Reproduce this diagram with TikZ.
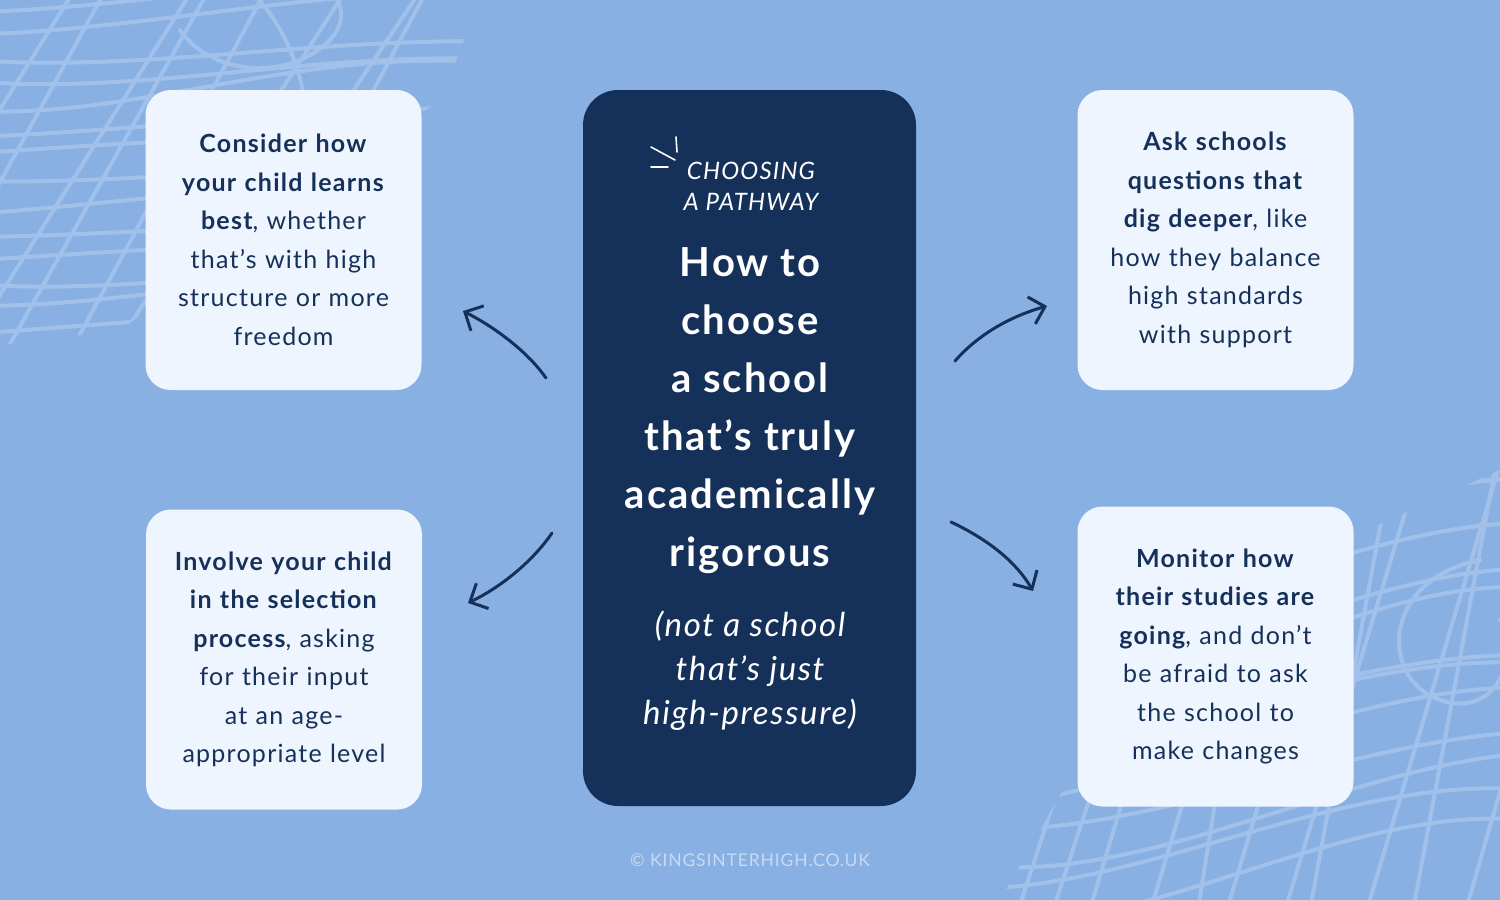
\documentclass[tikz,border=0pt]{standalone}
\usepackage{fontspec}
\setmainfont{Lato}[LetterSpace=5]
\usetikzlibrary{arrows.meta}
\definecolor{bg}{HTML}{89B0E3}
\definecolor{card}{HTML}{EEF5FE}
\definecolor{navy}{HTML}{15315A}
\definecolor{scrib}{HTML}{A2C1EA}
\definecolor{foot}{HTML}{C8DAF3}

\begin{document}
\begin{tikzpicture}[x=1pt, y=-1pt,
    scribble/.style={draw=scrib, line width=4pt, line cap=round},
    card/.style={fill=card, rounded corners=25pt, inner sep=0pt, text width=275pt,
      minimum width=276pt, minimum height=300pt, text=navy, align=center,
      font=\fontsize{25}{38.5}\selectfont},
    hand/.style={draw=navy, line width=3pt, line cap=round, line join=round,
      -{Straight Barb[length=14pt, width=28pt, line width=3pt]}},
    spark/.style={draw=white, line width=1.6pt, line cap=round}]
  \useasboundingbox (0,0) rectangle (1500,900);
  \fill[bg] (0,0) rectangle (1500,900);
  \pgfmathsetseed{11}
  % scribbles, top left
  \begin{scope}
    \clip (0,0) -- (480,0) -- (440,100) -- (300,200) -- (120,330) -- (0,345) -- cycle;
    \foreach \i in {0,...,13} {
      \pgfmathsetmacro\ya{8+\i*25+6*rand}
      \pgfmathsetmacro\yb{\ya-35+20*rand}
      \draw[scribble] (-20,\ya) .. controls (140,\ya+15*rand) and (300,\yb+15*rand) .. (480,\yb);
    }
    \foreach \i in {0,...,10} {
      \pgfmathsetmacro\xa{-160+\i*55+10*rand}
      \draw[scribble] (\xa,360) -- (\xa+230+40*rand,-20);
    }
    \draw[scribble] (250,-10) .. controls (300,40) and (320,120) .. (300,200);
    \draw[scribble] (330,-10) .. controls (350,10) and (345,40) .. (300,60)
      .. controls (250,80) and (200,60) .. (180,30);
  \end{scope}
  % scribbles, bottom right
  \begin{scope}
    \clip (1000,900) -- (1080,760) -- (1300,560) -- (1500,470) -- (1500,900) -- cycle;
    \foreach \i in {0,...,12} {
      \pgfmathsetmacro\ya{560+\i*30+8*rand}
      \pgfmathsetmacro\yb{\ya-110+25*rand}
      \draw[scribble] (990,\ya) .. controls (1150,\ya-20*rand) and (1350,\yb+15*rand) .. (1520,\yb);
    }
    \foreach \i in {0,...,11} {
      \pgfmathsetmacro\xa{960+\i*45+12*rand}
      \draw[scribble] (\xa,920) -- (\xa+110+40*rand,470);
    }
    \draw[scribble] (1480,560) .. controls (1380,580) and (1380,680) .. (1440,700)
      .. controls (1500,720) and (1520,650) .. (1500,620);
  \end{scope}

  % cards
  \node[card] (learn) at (283.5,240) {\textbf{Consider how}\\\textbf{your child learns}\\\textbf{best}, whether\\that’s with high\\structure or more\\freedom};
  \node[card] (involve) at (284,659.5) {\textbf{Involve your child}\\\textbf{in the selection}\\\textbf{process}, asking\\for their input\\at an age-\\appropriate level};
  \node[card] (ask) at (1215.5,240) {\textbf{Ask schools}\\\textbf{questions that}\\\textbf{dig deeper}, like\\how they balance\\high standards\\with support};
  \node[card] (monitor) at (1215.5,656.5) {\textbf{Monitor how}\\\textbf{their studies are}\\\textbf{going}, and don’t\\be afraid to ask\\the school to\\make changes};

  % centre panel
  \node[fill=navy, rounded corners=35pt, minimum width=333pt, minimum height=716pt] (main) at (749.5,448) {};
  \node[text=white, align=center, font=\fontsize{24}{31}\selectfont\itshape] (tag) at (751,186) {CHOOSING\\A PATHWAY};
  \draw[spark] (651,147) -- (675,160);
  \draw[spark] (651,167) -- (668,167);
  \draw[spark] (676,137) -- (677,152);
  \node[text=white, align=center, font=\fontsize{40}{58}\selectfont\bfseries] (title) at (750,411)
    {How to\\choose\\a school\\that’s truly\\academically\\rigorous};
  \node[text=white, align=center, font=\fontsize{33}{44}\selectfont\itshape] (sub) at (750,671)
    {(not a school\\that’s just\\high-pressure)};

  % arrows
  \coordinate (tl-s) at (546,378);
  \coordinate (tl-e) at (463,311);
  \coordinate (tr-s) at (955,361);
  \coordinate (tr-e) at (1047,306);
  \coordinate (bl-s) at (552,533);
  \coordinate (bl-e) at (468,603);
  \coordinate (br-s) at (951,522);
  \coordinate (br-e) at (1033,591);
  \draw[hand] (tl-s) .. controls (530,355) and (500,330) .. (tl-e);
  \draw[hand] (tr-s) .. controls (975,338) and (1005,318) .. (tr-e);
  \draw[hand] (bl-s) .. controls (535,558) and (505,585) .. (bl-e);
  \draw[hand] (br-s) .. controls (985,538) and (1015,560) .. (br-e);

  \node[text=foot, font=\fontsize{17.5}{20}\selectfont] (credit) at (750,860) {© KINGSINTERHIGH.CO.UK};
\end{tikzpicture}
\end{document}
